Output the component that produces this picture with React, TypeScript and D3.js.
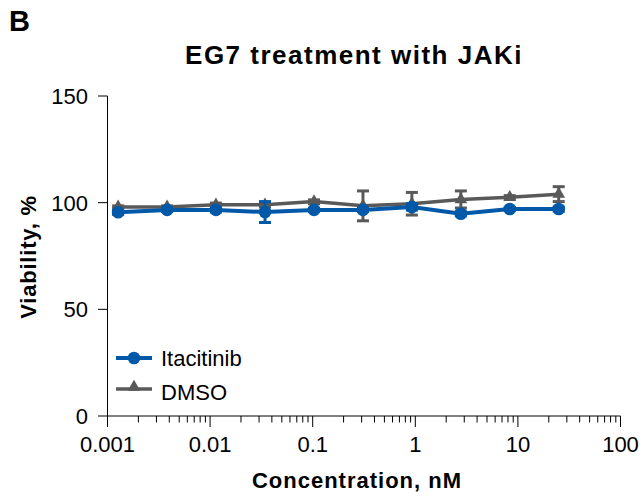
import React from "react";
import * as d3 from "d3";

const concentrations = [0.00127, 0.00381, 0.0114, 0.0343, 0.103, 0.309, 0.926, 2.78, 8.33, 25];
const itacitinibMean = [95.5, 96.6, 96.6, 95.6, 96.6, 96.6, 98, 94.8, 97, 97];
const itacitinibErr = [1, 0.8, 1, 4.9, 0.8, 0.8, 1.5, 1, 0.8, 1];
const dmsoMean = [98, 98, 99, 99, 100.5, 98.5, 99.5, 101.5, 102.5, 104];
const dmsoErr = [0.5, 0.5, 0.8, 0.8, 0.8, 7, 5.3, 4, 0.8, 3.5];
const yTicks = [0, 50, 100, 150];
const xTicks = [0.001, 0.01, 0.1, 1, 10, 100];
const xTickLabels = ["0.001", "0.01", "0.1", "1", "10", "100"];

const BLUE = "#0059a8";
const GRAY = "#595959";
const FONT = "Liberation Sans, Arial, sans-serif";

export default function App() {
  const width = 643, height = 496;
  const x = d3.scaleLog().domain([0.001, 100]).range([107.5, 620.5]);
  const y = d3.scaleLinear().domain([0, 150]).range([416, 96]);

  const minorTicks: number[] = [];
  for (let d = 0.001; d < 100; d *= 10) {
    for (let k = 2; k <= 9; k++) minorTicks.push(d * k);
  }

  const line = d3.line<number>().x((_, i) => x(concentrations[i])).y((v) => y(v));
  const tri = d3.symbol().type(d3.symbolTriangle).size(70)();

  const errBars = (means: number[], errs: number[], color: string, w: number) =>
    means.map((m, i) => {
      const cx = x(concentrations[i]);
      const y1 = y(m + errs[i]);
      const y2 = y(m - errs[i]);
      return (
        <g key={i} stroke={color} strokeWidth={w}>
          <line x1={cx} x2={cx} y1={y1} y2={y2} />
          <line x1={cx - 6} x2={cx + 6} y1={y1} y2={y1} />
          <line x1={cx - 6} x2={cx + 6} y1={y2} y2={y2} />
        </g>
      );
    });

  return (
    <svg width={width} height={height} style={{ position: "absolute", left: 0, top: 0 }} fontFamily={FONT}>
      <rect width={width} height={height} fill="#fff" />
      <text x={9} y={31} fontSize={29} fontWeight="bold">B</text>
      <text x={354} y={64} fontSize={26} letterSpacing={1.5} fontWeight="bold" textAnchor="middle">EG7 treatment with JAKi</text>

      {/* y axis */}
      <line x1={107.5} x2={107.5} y1={96} y2={416} stroke="#000" strokeWidth={1} />
      {yTicks.map((t) => (
        <g key={t}>
          <line x1={98} x2={107.5} y1={y(t)} y2={y(t)} stroke="#000" />
          <text x={88} y={y(t) + 8} fontSize={22} textAnchor="end">{t}</text>
        </g>
      ))}
      <text transform={`translate(36,257) rotate(-90)`} fontSize={22} letterSpacing={0.8} fontWeight="bold" textAnchor="middle">Viability, %</text>

      {/* x axis */}
      <line x1={107.5} x2={620.5} y1={416} y2={416} stroke="#000" />
      {xTicks.map((t, i) => (
        <g key={t}>
          <line x1={x(t)} x2={x(t)} y1={416} y2={427} stroke="#000" />
          <text x={x(t)} y={452} fontSize={22} textAnchor="middle">{xTickLabels[i]}</text>
        </g>
      ))}
      {minorTicks.map((t, i) => (
        <line key={i} x1={x(t)} x2={x(t)} y1={416} y2={422.5} stroke="#000" />
      ))}
      <text x={357} y={488} fontSize={22} letterSpacing={1} fontWeight="bold" textAnchor="middle">Concentration, nM</text>

      {/* DMSO */}
      {errBars(dmsoMean, dmsoErr, GRAY, 3)}
      <path d={line(dmsoMean) || ""} fill="none" stroke={GRAY} strokeWidth={3.5} />
      {dmsoMean.map((v, i) => (
        <path key={i} d={tri || ""} transform={`translate(${x(concentrations[i])},${y(v)})`} fill={GRAY} />
      ))}

      {/* Itacitinib */}
      {errBars(itacitinibMean, itacitinibErr, BLUE, 3)}
      <path d={line(itacitinibMean) || ""} fill="none" stroke={BLUE} strokeWidth={4} />
      {itacitinibMean.map((v, i) => (
        <circle key={i} cx={x(concentrations[i])} cy={y(v)} r={6.3} fill={BLUE} />
      ))}

      {/* legend */}
      <line x1={116} x2={152} y1={358} y2={358} stroke={BLUE} strokeWidth={4} />
      <circle cx={134} cy={358} r={6.3} fill={BLUE} />
      <text x={161} y={366} fontSize={22}>Itacitinib</text>
      <line x1={116} x2={152} y1={389} y2={389} stroke={GRAY} strokeWidth={3.5} />
      <path d={tri || ""} transform="translate(134,387)" fill={GRAY} />
      <text x={161} y={400} fontSize={22}>DMSO</text>
    </svg>
  );
}
